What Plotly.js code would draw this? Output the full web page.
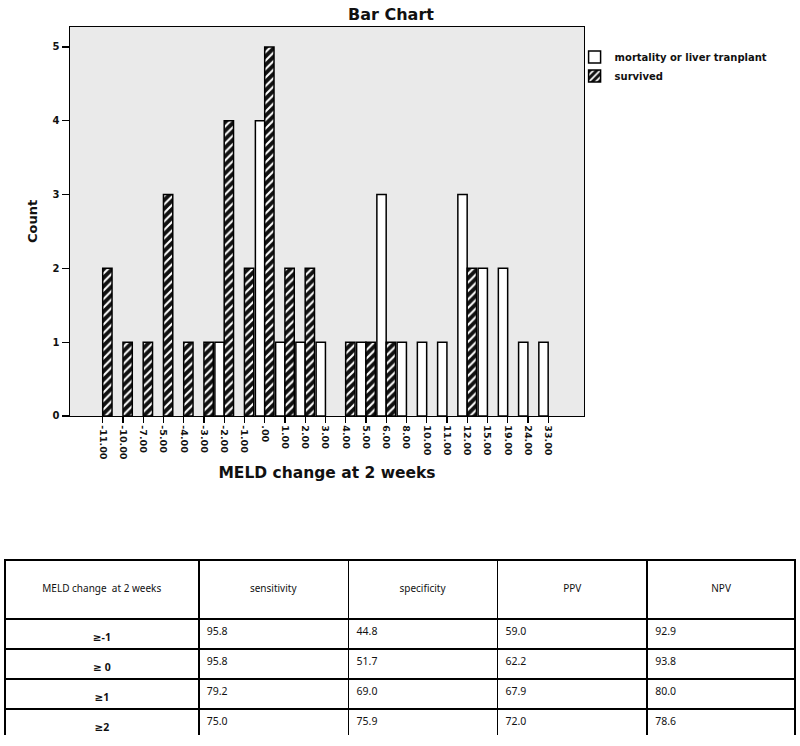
<!DOCTYPE html>
<html>
<head>
<meta charset="utf-8">
<script src="https://cdn.plot.ly/plotly-3.0.1.min.js"></script>
<style>
  html, body { margin: 0; padding: 0; background: #ffffff; }
  #chart { width: 800px; height: 746px; }
</style>
</head>
<body>
<div id="chart"></div>
<script>
// MELD change categories (x axis)
var categories = ["-11.00", "-10.00", "-7.00", "-5.00", "-4.00", "-3.00", "-2.00", "-1.00", ".00",
  "1.00", "2.00", "3.00", "4.00", "5.00", "6.00", "8.00", "10.00", "11.00", "12.00", "15.00",
  "19.00", "24.00", "33.00"];

// Counts per category
var mortalityCounts = [0, 0, 0, 0, 0, 0, 1, 0, 4, 1, 1, 1, 0, 1, 3, 1, 1, 1, 3, 2, 2, 1, 1];
var survivedCounts  = [2, 1, 1, 3, 1, 1, 4, 2, 5, 2, 2, 0, 1, 1, 1, 0, 0, 0, 2, 0, 0, 0, 0];

var seriesNames = ["mortality or liver tranplant", "survived"];
var yTicks = [0, 1, 2, 3, 4, 5];

// Table data
var tableHeader = ["MELD change  at 2 weeks", "sensitivity", "specificity", "PPV", "NPV"];
var thresholds  = ["≥-1", "≥ 0", "≥1", "≥2"];
var sensitivity = ["95.8", "95.8", "79.2", "75.0"];
var specificity = ["44.8", "51.7", "69.0", "75.9"];
var ppv         = ["59.0", "62.2", "67.9", "72.0"];
var npv         = ["92.9", "93.8", "80.0", "78.6"];

var boldFont = "DejaVu Sans, Verdana, sans-serif";

function hideZero(v) { return v === 0 ? null : v; }

var traceMortality = {
  type: "bar",
  name: seriesNames[0],
  x: categories,
  y: mortalityCounts.map(hideZero),
  marker: { color: "#ffffff", line: { color: "#000000", width: 1.5 } },
  hoverinfo: "x+y+name"
};

var traceSurvived = {
  type: "bar",
  name: seriesNames[1],
  x: categories,
  y: survivedCounts.map(hideZero),
  marker: {
    color: "#000000",
    line: { color: "#000000", width: 1.5 },
    pattern: { shape: "/", fgcolor: "#ffffff", bgcolor: "#111111", size: 6, solidity: 0.35 }
  },
  hoverinfo: "x+y+name"
};

var traceTable = {
  type: "table",
  domain: { x: [0, 1], y: [0, 0.2472] },
  columnwidth: [194, 150, 149, 150, 148],
  header: {
    values: tableHeader.map(function (h) { return "\u00a0<br>" + h; }),
    align: "center",
    height: 59,
    line: { color: "#000000", width: 1.5 },
    fill: { color: "#ffffff" },
    font: { family: "Noto Sans, DejaVu Sans, sans-serif", size: 10, color: "#111111" }
  },
  cells: {
    values: [thresholds.map(function (t) { return "<br><b>" + t + "</b>"; }), sensitivity, specificity, ppv, npv],
    align: ["center", "left", "left", "left", "left"],
    height: 29,
    line: { color: "#000000", width: 1.5 },
    fill: { color: "#ffffff" },
    font: { family: "Noto Sans, DejaVu Sans, sans-serif", size: 10.5, color: "#111111" }
  }
};

var layout = {
  width: 800,
  height: 746,
  margin: { l: 5, r: 5, t: 27, b: 11, pad: 0 },
  paper_bgcolor: "#ffffff",
  plot_bgcolor: "#eaeaea",
  barmode: "group",
  bargap: 0.08,
  bargroupgap: 0,
  title: {
    text: "<b>Bar Chart</b>",
    font: { family: boldFont, size: 16, color: "#111111" },
    x: 0.4886, xref: "paper", xanchor: "center",
    y: 0.981, yref: "container", yanchor: "middle"
  },
  xaxis: {
    type: "category",
    domain: [0.0823, 0.7329],
    range: [-1.615, 23.77],
    showgrid: false,
    zeroline: false,
    showline: true,
    linecolor: "#000000",
    linewidth: 1.5,
    mirror: true,
    ticks: "outside",
    ticklen: 6,
    tickwidth: 1.2,
    tickcolor: "#000000",
    tickangle: 90,
    tickfont: { family: boldFont, size: 9.5, color: "#111111", weight: "bold" },
    title: {
      text: "<b>MELD change at 2 weeks</b>",
      font: { family: boldFont, size: 15.5, color: "#111111" },
      standoff: 8
    },
    fixedrange: true
  },
  yaxis: {
    domain: [0.4506, 1],
    range: [0, 5.27],
    tickvals: yTicks,
    ticktext: yTicks.map(String),
    showgrid: false,
    zeroline: false,
    showline: true,
    linecolor: "#000000",
    linewidth: 1.5,
    mirror: true,
    ticks: "outside",
    ticklen: 7,
    tickwidth: 1.2,
    tickcolor: "#000000",
    tickfont: { family: boldFont, size: 10, color: "#111111", weight: "bold" },
    title: {
      text: "<b>Count</b>",
      font: { family: boldFont, size: 13, color: "#111111" },
      standoff: 12
    },
    fixedrange: true
  },
  showlegend: true,
  legend: {
    x: 0.721, xanchor: "left",
    y: 0.978, yanchor: "top",
    bgcolor: "rgba(0,0,0,0)",
    borderwidth: 0,
    font: { family: boldFont, size: 10, color: "#111111", weight: "bold" },
    itemwidth: 30,
    traceorder: "normal",
    tracegroupgap: 0
  }
};

Plotly.newPlot("chart", [traceMortality, traceSurvived, traceTable], layout, { displayModeBar: false, staticPlot: true });
</script>
</body>
</html>
